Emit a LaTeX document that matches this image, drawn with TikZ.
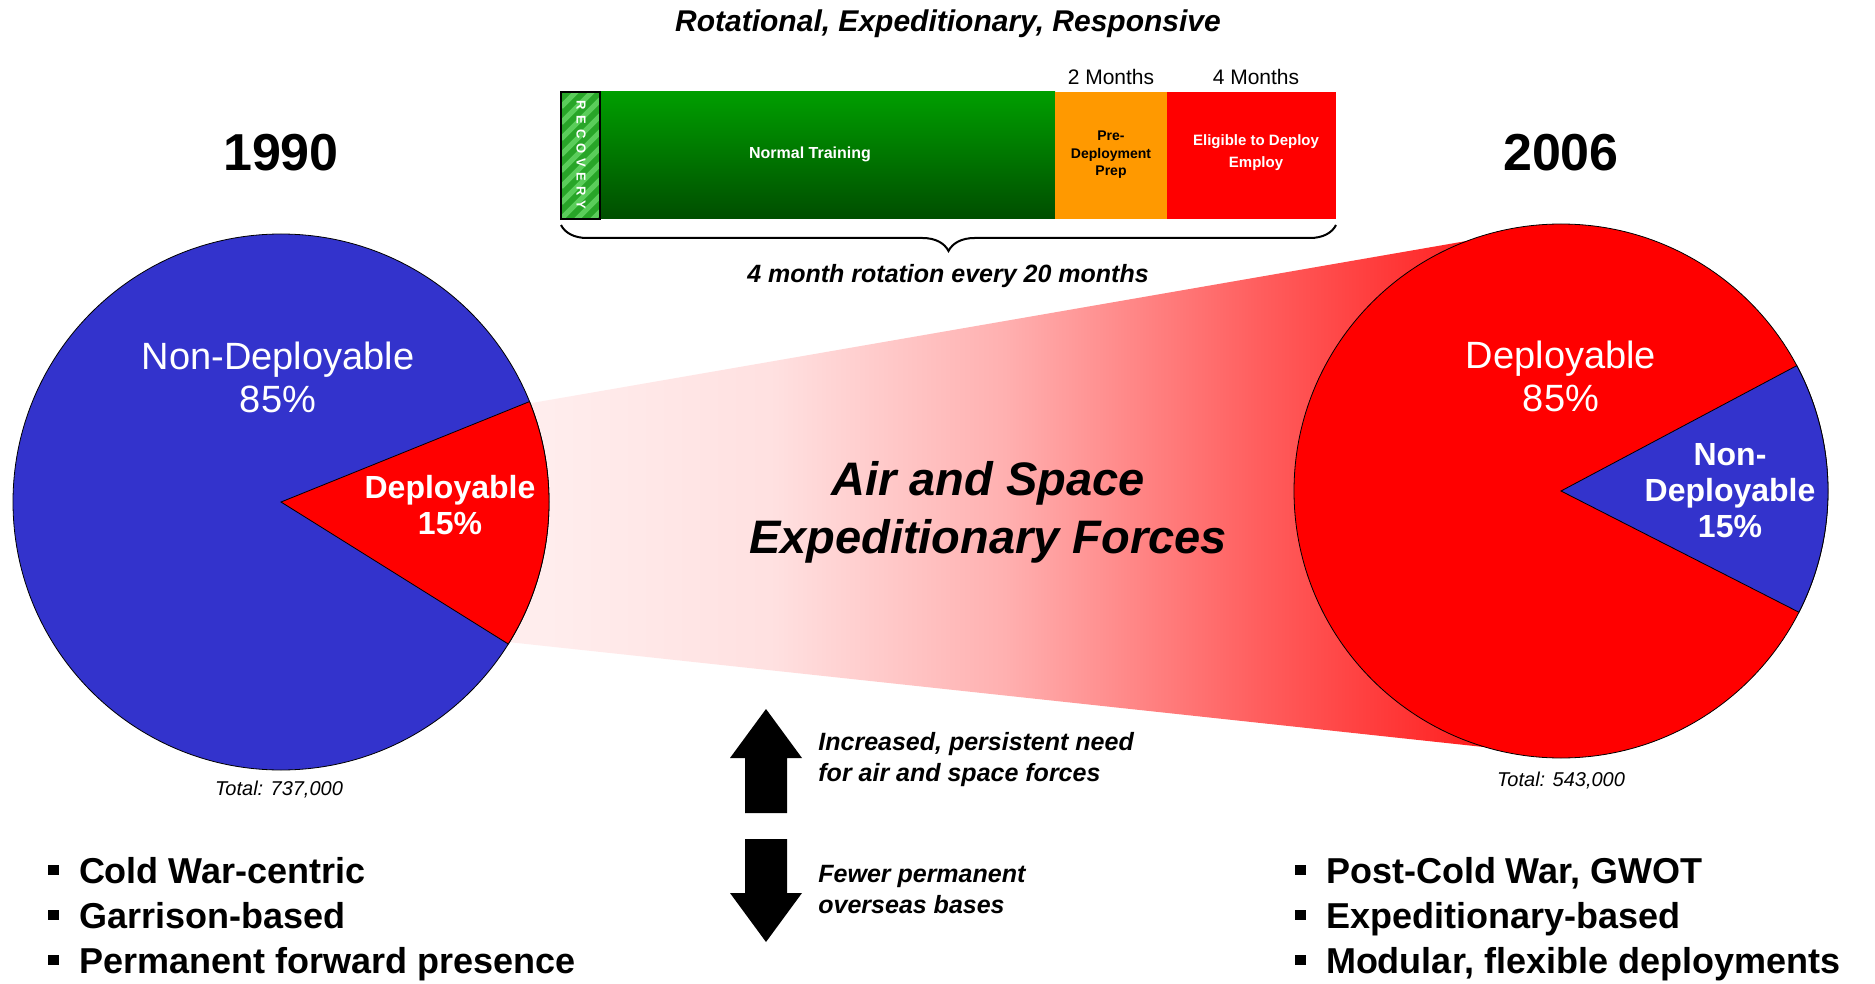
\documentclass[tikz,border=0pt]{standalone}
\usepackage{fontspec}
\setmainfont{Liberation Sans}
\usetikzlibrary{decorations.pathreplacing}
\definecolor{pieblue}{RGB}{51,51,204}
\definecolor{barorange}{RGB}{255,153,0}
\definecolor{traintop}{RGB}{0,158,0}
\definecolor{trainbot}{RGB}{0,78,0}
\definecolor{recgreen}{RGB}{40,165,40}
\definecolor{recstripe}{RGB}{90,205,90}
\pgfdeclarehorizontalshading{funnel}{100bp}{color(0bp)=(red!6); color(28bp)=(red!7); color(39bp)=(red!12); color(50bp)=(red!31); color(62bp)=(red!63); color(71bp)=(red!84); color(75bp)=(red); color(100bp)=(red)}
\newcommand\bsq{\rule[0.22em]{0.3em}{0.3em}\hspace{0.55em}}

\begin{document}
\begin{tikzpicture}[x=0.5pt,y=0.5pt,
	pielbl/.style={text=white,align=center,font=\fontsize{19}{21.5}\selectfont},
	wedgelbl/.style={text=white,align=center,font=\bfseries\fontsize{16}{18}\selectfont},
	total/.style={font=\itshape\fontsize{10}{12}\selectfont},
	year/.style={font=\bfseries\fontsize{26}{30}\selectfont},
	barlbl/.style={align=center,font=\bfseries\fontsize{7}{8.7}\selectfont},
	months/.style={font=\fontsize{10.5}{12}\selectfont},
	note/.style={anchor=west,inner sep=0,align=left,font=\bfseries\itshape\fontsize{12.5}{15.5}\selectfont},
	bullets/.style={anchor=west,inner sep=0,align=left,font=\bfseries\fontsize{18}{22.5}\selectfont}]
\useasboundingbox[fill=white] (0,0) rectangle (1875,-984);

% funnel from the 1990 pie to the 2006 pie
\shade[shading=funnel] (480,-412) -- (1530,-230) -- (1530,-752) -- (480,-639) -- cycle;

% 1990
\coordinate (c1) at (281,-502);
\filldraw[fill=pieblue,draw=black] (c1) circle[radius=268];
\filldraw[fill=red,draw=black] (c1) -- ++(-32:268) arc[start angle=-32,end angle=22,radius=268] -- cycle;
\node[year] (y1) at (281,-153) {1990};
\node[pielbl] (nd1) at (278,-377) {Non-Deployable\\85\%};
\node[wedgelbl] (d1) at (450,-505) {Deployable\\15\%};
\node[total] (t1) at (279,-790) {Total: 737,000};

% 2006
\coordinate (c2) at (1561,-491);
\filldraw[fill=red,draw=black] (c2) circle[radius=267];
\filldraw[fill=pieblue,draw=black] (c2) -- ++(-27:267) arc[start angle=-27,end angle=28,radius=267] -- cycle;
\node[year] (y2) at (1561,-153) {2006};
\node[pielbl] (d2) at (1561,-376) {Deployable\\85\%};
\node[wedgelbl] (nd2) at (1730,-491) {Non-\\Deployable\\15\%};
\node[total] (t2) at (1561,-781) {Total: 543,000};

% rotation bar
\node[font=\bfseries\itshape\fontsize{15}{18}\selectfont] (title) at (948,-24) {Rotational, Expeditionary, Responsive};
\shade[top color=traintop,bottom color=trainbot] (600,-92) rectangle (1055,-219);
\fill[barorange] (1055,-92) rectangle (1167,-219);
\fill[red] (1167,-92) rectangle (1336,-219);
\fill[recgreen] (561,-92) rectangle (600,-219);
\begin{scope}
	\clip (561,-92) rectangle (600,-219);
	\foreach \s in {-48,-32,...,144}
		\draw[recstripe,line width=2.5pt] (561,-219+\s) -- ++(80,80);
\end{scope}
\draw[line width=1pt] (561,-92) rectangle (600,-219);
\node[rotate=-90,text=white,font=\bfseries\fontsize{6.5}{7}\selectfont\addfontfeatures{LetterSpace=40}] (rec) at (581,-155) {RECOVERY};
\node[barlbl,text=white,font=\bfseries\fontsize{8}{9}\selectfont] (train) at (810,-154) {Normal Training};
\node[barlbl] (prep) at (1111,-155) {Pre-\\Deployment\\Prep};
\node[barlbl,text=white,font=\bfseries\fontsize{7.5}{11}\selectfont] (elig) at (1256,-153) {Eligible to Deploy\\Employ};
\node[months] (m2) at (1111,-77) {2 Months};
\node[months] (m4) at (1256,-77) {4 Months};
\coordinate (bl) at (561,-225);
\coordinate (br) at (1336,-225);
\draw[decorate,decoration={brace,mirror,amplitude=13pt},line width=1pt] (bl) -- (br);
\node[font=\bfseries\itshape\fontsize{12.5}{15}\selectfont] (rot) at (948,-276) {4 month rotation every 20 months};

% centre
\node[align=center,font=\bfseries\itshape\fontsize{23.5}{29}\selectfont] (aef) at (988,-512) {Air and Space\\Expeditionary Forces};
\fill (766,-709) -- (802,-758) -- (787,-758) -- (787,-813) -- (745,-813) -- (745,-758) -- (730,-758) -- cycle;
\fill (745,-839) -- (787,-839) -- (787,-893) -- (802,-893) -- (766,-942) -- (730,-893) -- (745,-893) -- cycle;
\node[note] (up) at (818,-760) {Increased, persistent need\\for air and space forces};
\node[note] (down) at (818,-890) {Fewer permanent\\overseas bases};

% bullets
\node[bullets] (old) at (48,-919) {\bsq Cold War-centric\\\bsq Garrison-based\\\bsq Permanent forward presence};
\node[bullets] (new) at (1295,-919) {\bsq Post-Cold War, GWOT\\\bsq Expeditionary-based\\\bsq Modular, flexible deployments};
\end{tikzpicture}
\end{document}
